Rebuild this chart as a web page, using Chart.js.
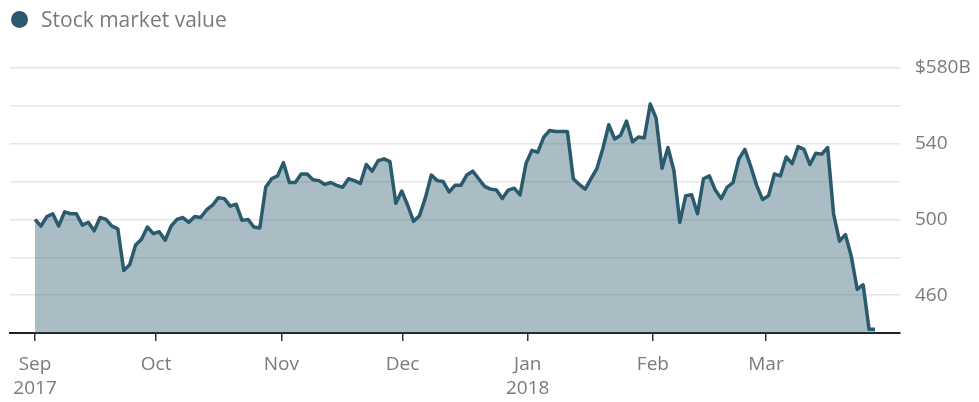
<!DOCTYPE html>
<html>
<head>
<meta charset="utf-8">
<script src="https://cdn.jsdelivr.net/npm/chart.js@4.4.1/dist/chart.umd.min.js"></script>
<style>
  html, body { margin: 0; padding: 0; background: #fff; }
  #wrap { position: relative; width: 979px; height: 402px; }
  #legend {
    position: absolute; left: 11px; top: 5px;
    display: flex; align-items: center;
    font: 21px "Open Sans", sans-serif; color: #7a7a7a;
  }
  #legend .dot {
    width: 17px; height: 17px; border-radius: 50%;
    background: #2a5a6e; margin-right: 13px;
  }
  canvas { display: block; }
</style>
</head>
<body>
<div id="wrap">
  <div id="legend"><span class="dot"></span><span id="legend-text"></span></div>
  <canvas id="chart" width="979" height="402"></canvas>
</div>
<script>
const seriesName = "Stock market value";
const startDate = "2017-09-01";
const endDate = "2018-03-28";

const monthStarts = ["2017-09-01", "2017-10-01", "2017-11-01", "2017-12-01", "2018-01-01", "2018-02-01", "2018-03-01"];
const monthLabels = ["Sep", "Oct", "Nov", "Dec", "Jan", "Feb", "Mar"];
const yearLabels = ["2017", "", "", "", "2018", "", ""];

const yGridValues = [440, 460, 480, 500, 520, 540, 560, 580];
const yLabelValues = [460, 500, 540, 580];

// market value in $B, one value per trading day
const marketValue = [
  500, 496.5, 501.5, 503, 496.5, 504, 503, 503, 497, 498.5,
  494, 501, 500, 496.5, 495, 473, 476, 486.5, 489.5, 496,
  492.5, 493.5, 489, 496.5, 500, 501, 498.5, 501.5, 501, 505,
  507.5, 511.5, 511, 507, 508, 499.5, 500, 496, 495.5, 517,
  521.5, 523, 530, 519.5, 519.5, 524, 524, 521, 520.5, 518.5,
  519.5, 518, 517, 521.5, 520.5, 519, 529, 525.5, 531, 532,
  530.5, 508.5, 515, 507.5, 499, 502, 511.5, 523.5, 520.5, 520,
  514.5, 518, 518, 523.5, 525.5, 521.5, 517.5, 516, 515.5, 511,
  515.5, 516.5, 513, 529.5, 536.5, 535.5, 543.5, 547, 546.5, 546.5,
  546.5, 521.5, 518.5, 516, 521.5, 527, 537.5, 550, 542.5, 544.5,
  552, 541, 543.5, 543, 561, 553.5, 527, 538, 526, 498.5,
  512.5, 513, 503, 521.5, 523, 515.5, 511, 517, 519.5, 532,
  537, 528, 518, 510.5, 512.5, 524, 523, 533, 529.5, 538.5,
  537, 529, 535, 534.5, 538, 503, 488.5, 492, 480.5, 463,
  465.5, 442, 442
];

document.getElementById("legend-text").textContent = seriesName;

const dayDiff = (a, b) => (Date.parse(a) - Date.parse(b)) / 86400000;
const span = dayDiff(endDate, startDate);
const lastIndex = marketValue.length - 1;
const monthTickPos = monthStarts.map(d => dayDiff(d, startDate) / span * lastIndex);

Chart.defaults.font.family = '"Open Sans", sans-serif';
Chart.defaults.color = "#7a7a7a";

new Chart(document.getElementById("chart"), {
  type: "line",
  data: {
    datasets: [
      {
        label: seriesName,
        data: marketValue.map((v, i) => ({ x: i, y: v })),
        borderColor: "#2a5a6e",
        backgroundColor: "rgba(42, 90, 110, 0.4)",
        borderWidth: 3.5,
        borderJoinStyle: "round",
        fill: "start",
        tension: 0,
        pointRadius: 0,
      },
    ],
  },
  options: {
    responsive: false,
    animation: false,
    layout: { padding: { top: 68, left: 10, right: 0, bottom: 0 } },
    plugins: {
      legend: { display: false },
      tooltip: { enabled: false },
    },
    scales: {
      x: {
        type: "linear",
        min: -4.23,
        max: 146.23,
        afterBuildTicks: (scale) => {
          scale.ticks = monthTickPos.map(v => ({ value: v }));
        },
        afterFit: (scale) => { scale.height = 69; },
        grid: {
          drawOnChartArea: false,
          drawTicks: true,
          tickLength: 8,
          color: "#333",
          lineWidth: 1.5,
        },
        border: { display: true, color: "#222", width: 2 },
        ticks: {
          autoSkip: false,
          maxRotation: 0,
          padding: 12,
          font: { size: 19, lineHeight: 1.25 },
          callback: (value, index) => {
            const lines = [monthLabels[index]];
            if (yearLabels[index]) lines.push(yearLabels[index]);
            return lines;
          },
        },
      },
      y: {
        position: "right",
        min: 440,
        max: 580,
        afterBuildTicks: (scale) => {
          scale.ticks = yGridValues.map(v => ({ value: v }));
        },
        afterFit: (scale) => { scale.width = 79; },
        grid: { color: "#e6e6e6", lineWidth: 1.5, drawTicks: false },
        border: { display: false },
        ticks: {
          padding: 15,
          font: { size: 19 },
          callback: (v) => {
            if (!yLabelValues.includes(v)) return "";
            return v === 580 ? "$" + v + "B" : String(v);
          },
        },
      },
    },
  },
});
</script>
</body>
</html>
